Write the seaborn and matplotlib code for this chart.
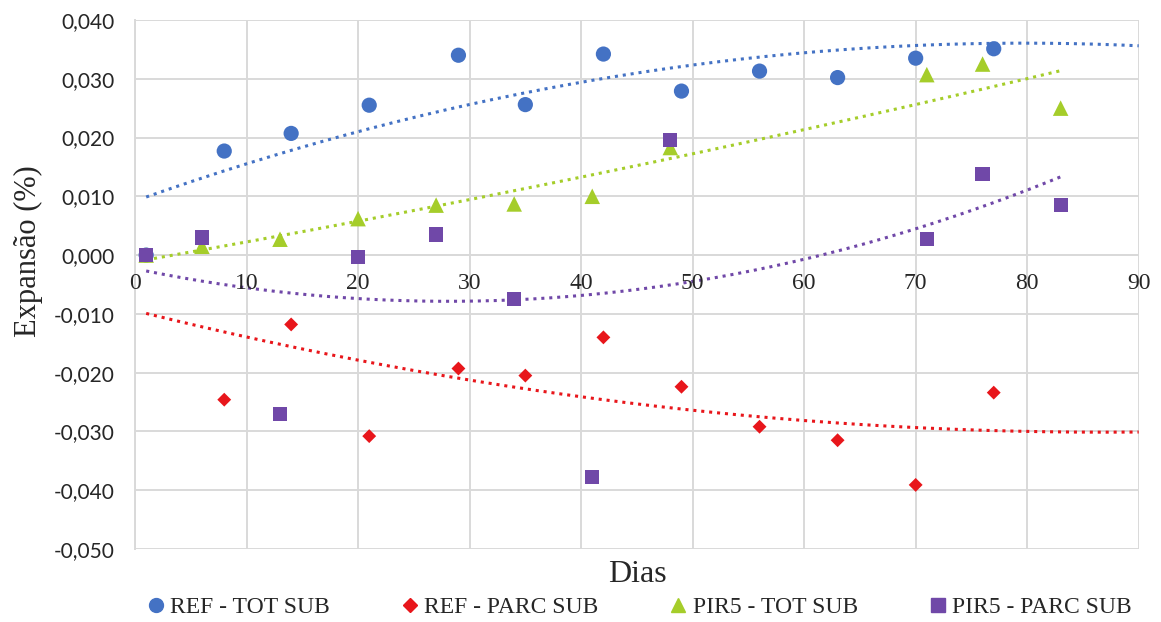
import numpy as np
import pandas as pd
import seaborn as sns
import matplotlib.pyplot as plt
from matplotlib.ticker import FuncFormatter

# data (day 1 = 0 for every series, hidden under the square)
ref_tot_dias = [1, 8, 14, 21, 29, 35, 42, 49, 56, 63, 70, 77]
ref_tot_exp = [0.0, 0.0177, 0.0207, 0.0255, 0.0340, 0.0256, 0.0342, 0.0279, 0.0313, 0.0302, 0.0335, 0.0351]

ref_parc_dias = [1, 8, 14, 21, 29, 35, 42, 49, 56, 63, 70, 77]
ref_parc_exp = [0.0, -0.0246, -0.0118, -0.0308, -0.0193, -0.0205, -0.0140, -0.0224, -0.0292, -0.0315, -0.0391, -0.0234]

pir_tot_dias = [1, 6, 13, 20, 27, 34, 41, 48, 71, 76, 83]
pir_tot_exp = [0.0, 0.0015, 0.0027, 0.0062, 0.0085, 0.0087, 0.0100, 0.0183, 0.0307, 0.0325, 0.0250]

pir_parc_dias = [1, 6, 13, 20, 27, 34, 41, 48, 71, 76, 83]
pir_parc_exp = [0.0, 0.0030, -0.0270, -0.0003, 0.0035, -0.0075, -0.0378, 0.0196, 0.0028, 0.0138, 0.0085]

# the REF - TOT SUB trend line does not follow from the visible points,
# so it is read off the picture at a few days
ref_tot_trend_dias = [1, 10, 20, 30, 40, 50, 60, 70, 80, 90]
ref_tot_trend_exp = [0.0099, 0.0153, 0.0212, 0.0255, 0.0299, 0.0322, 0.0341, 0.0356, 0.0361, 0.0357]

series = ["REF - TOT SUB", "REF - PARC SUB", "PIR5 - TOT SUB", "PIR5 - PARC SUB"]
cores = ["#4472C4", "#E8161B", "#A5CD2A", "#7048A8"]
marcadores = ["o", "D", "^", "s"]
tamanhos = [120, 50, 125, 105]
fim_trend = [90, 90, 83, 83]

df = pd.concat([
    pd.DataFrame({"Dias": ref_tot_dias, "Exp": ref_tot_exp, "Serie": series[0]}),
    pd.DataFrame({"Dias": ref_parc_dias, "Exp": ref_parc_exp, "Serie": series[1]}),
    pd.DataFrame({"Dias": pir_tot_dias, "Exp": pir_tot_exp, "Serie": series[2]}),
    pd.DataFrame({"Dias": pir_parc_dias, "Exp": pir_parc_exp, "Serie": series[3]}),
])

sns.set_style("white")
plt.rcParams["font.family"] = ["Liberation Serif", "DejaVu Serif"]

fig = plt.figure(figsize=(11.61, 6.22), dpi=100)
ax = fig.add_axes([0.1163, 0.1174, 0.8645, 0.8505])

# polynomial (order 2) trend lines, dotted
for s, c, xf in zip(series, cores, fim_trend):
    if s == series[0]:
        coef = np.polyfit(ref_tot_trend_dias, ref_tot_trend_exp, 2)
    else:
        d = df[df["Serie"] == s]
        coef = np.polyfit(d["Dias"], d["Exp"], 2)
    xs = np.linspace(1, xf, 200)
    ax.plot(xs, np.polyval(coef, xs), color=c, linestyle=(0, (1, 1.6)), linewidth=2.2, zorder=2)

for s, c, m, sz in zip(series, cores, marcadores, tamanhos):
    d = df[df["Serie"] == s]
    sns.scatterplot(data=d, x="Dias", y="Exp", color=c, marker=m, s=sz,
                    edgecolor="none", label=s, ax=ax, zorder=3, legend=False)

ax.set_xlim(0, 90)
ax.set_ylim(-0.050, 0.040)
ax.set_xticks(np.arange(0, 91, 10))
ax.set_yticks(np.arange(-0.050, 0.0401, 0.010))
ax.yaxis.set_major_formatter(FuncFormatter(lambda v, p: ("%.3f" % v).replace(".", ",").replace("-0,000", "0,000")))
ax.grid(True, color="#D9D9D9", linewidth=1.4)
ax.axhline(0, color="#D9D9D9", linewidth=1.4, zorder=1)
for sp in ax.spines.values():
    sp.set_visible(False)
ax.spines["left"].set_visible(True)
ax.spines["left"].set_color("#D9D9D9")
ax.spines["left"].set_linewidth(1.4)

ax.tick_params(axis="both", length=0)
ax.tick_params(axis="y", pad=15)
for lab in ax.get_yticklabels():
    lab.set_family("Lato")
    lab.set_fontsize(15)
ax.set_xticklabels([])
ax.set_xlabel("")
ax.set_ylabel("")
# x tick labels sit just under the zero line
for xv in np.arange(0, 91, 10):
    ax.text(xv, -0.0048, str(xv), ha="center", va="center", fontsize=17, zorder=4)

fig.text(637 / 1161, 1 - 575 / 622, "Dias", ha="center", va="center", fontsize=23)
fig.text(28 / 1161, 1 - 251 / 622, "Expansão (%)", ha="center", va="center", rotation=90, fontsize=22)

handles = []
for s, c, m in zip(series, cores, marcadores):
    handles.append(plt.Line2D([], [], linestyle="none", marker=m, color=c,
                              markersize=7 if m == "D" else 10, label=s))
fig.legend(handles=handles, loc="center", bbox_to_anchor=(639 / 1161, 1 - 607 / 622), ncol=4,
           frameon=False, fontsize=17, handlelength=0.8, handletextpad=0.2, columnspacing=3.0,
           borderpad=0, borderaxespad=0)

plt.savefig("out.png", dpi=100)
plt.close()
